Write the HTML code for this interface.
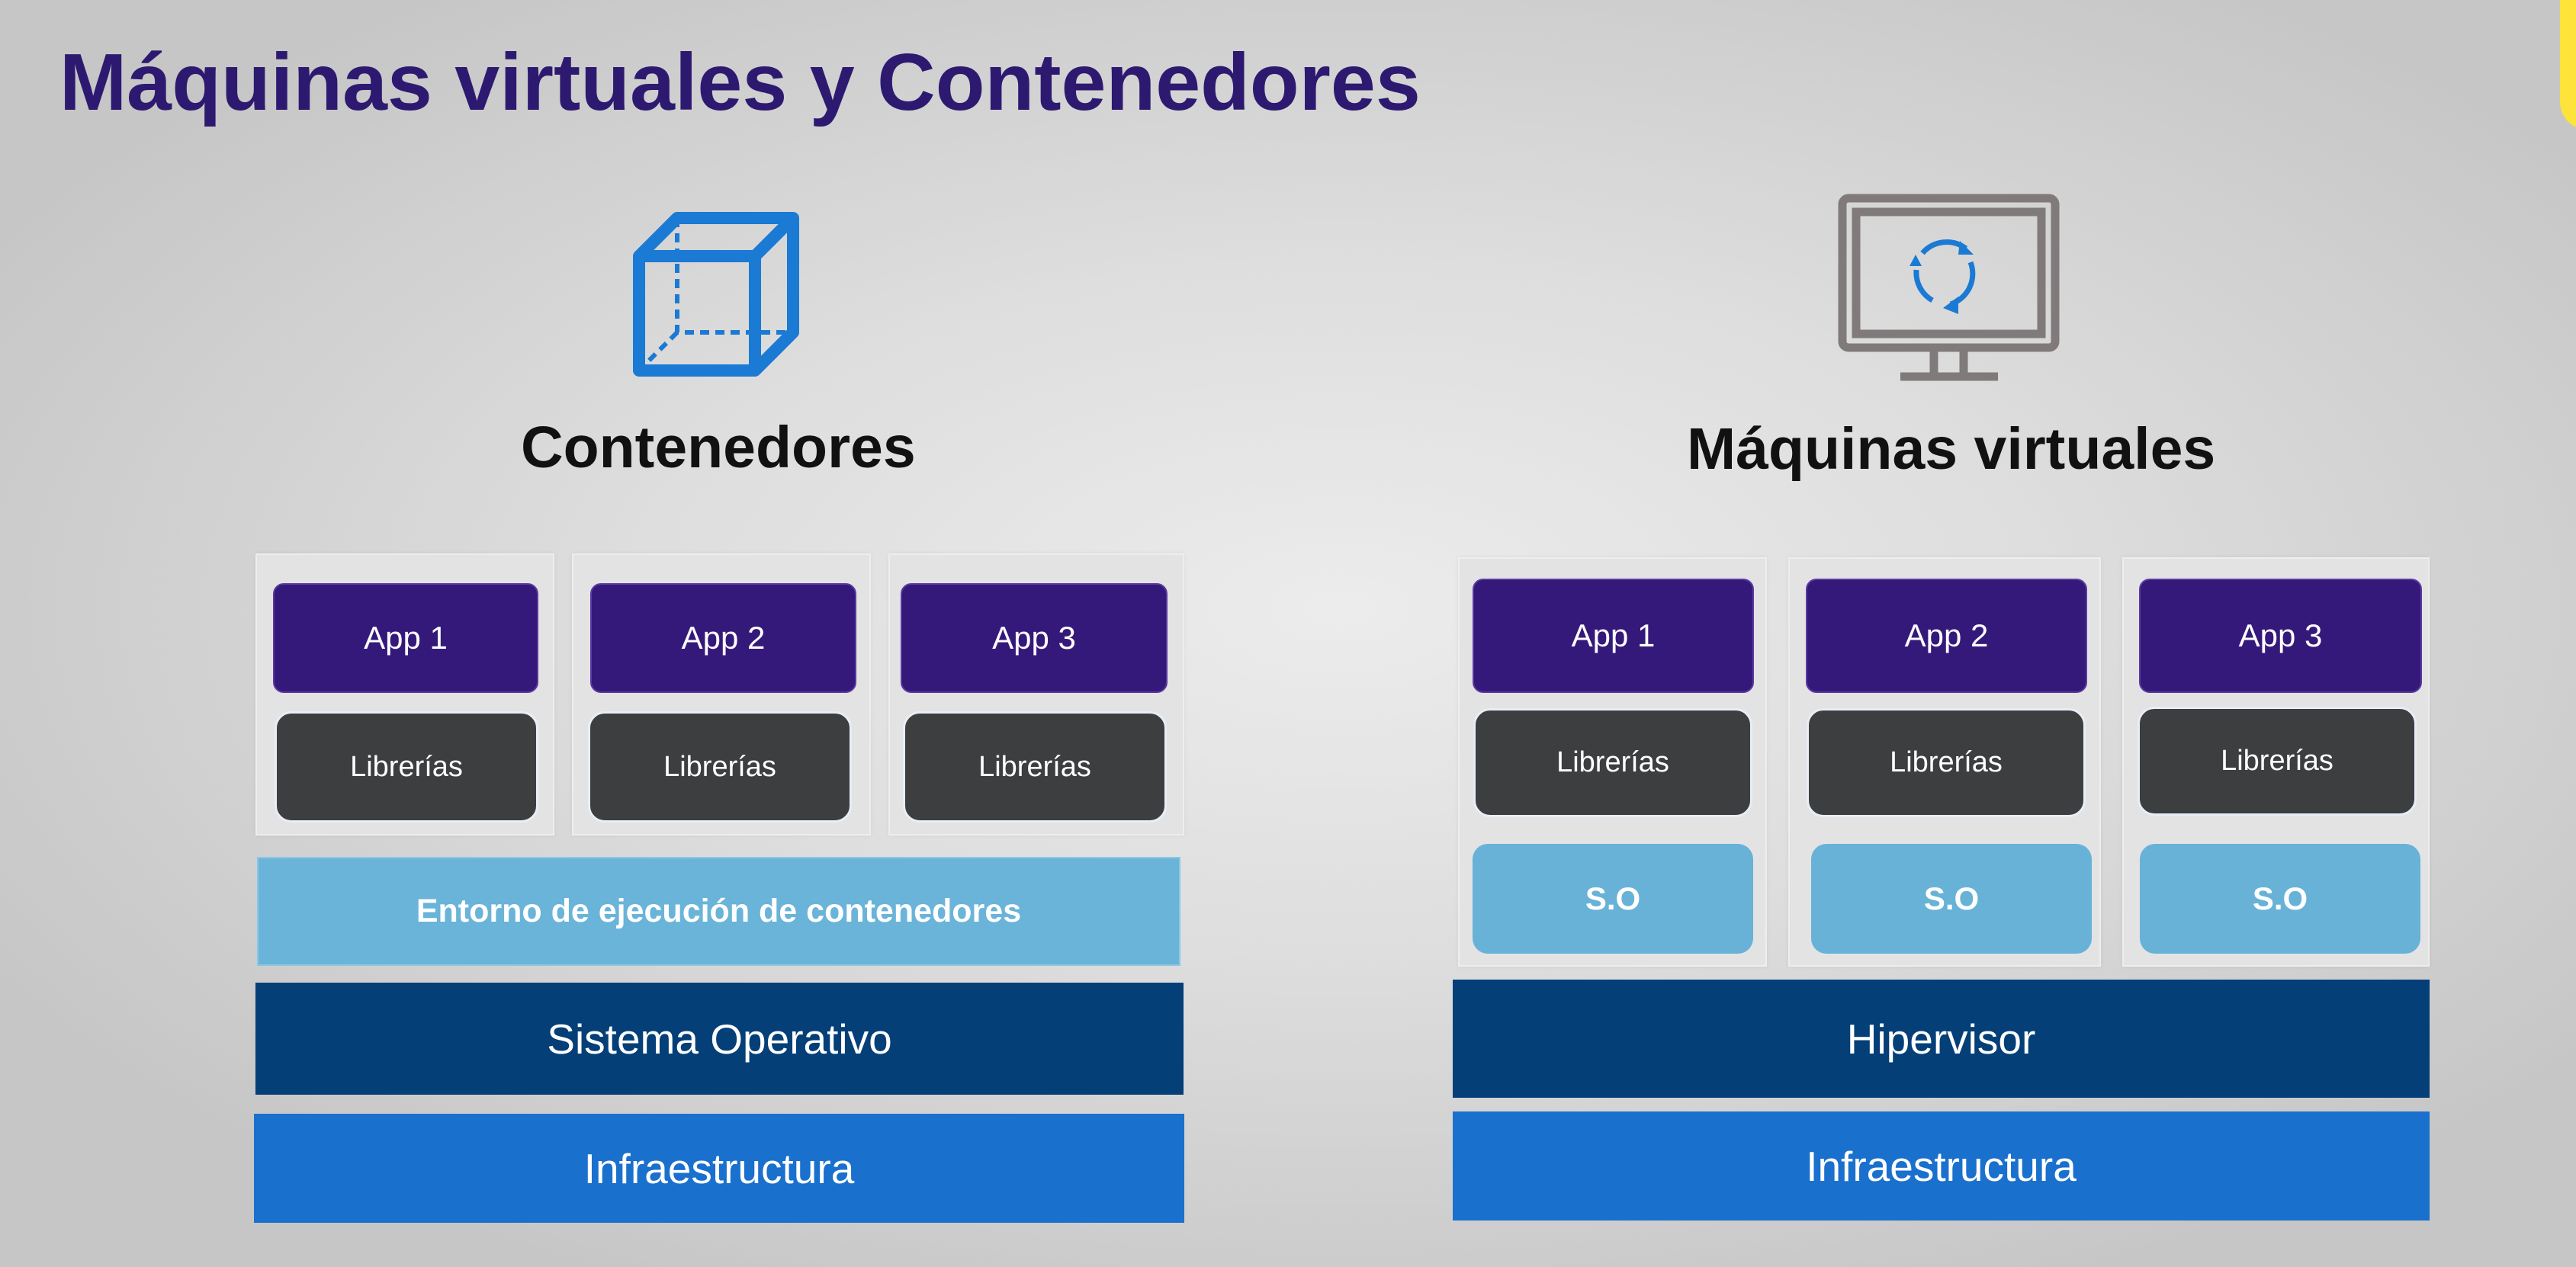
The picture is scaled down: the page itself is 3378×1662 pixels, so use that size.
<!DOCTYPE html>
<html><head><meta charset="utf-8"><style>
*{margin:0;padding:0;box-sizing:border-box}
body{width:3378px;height:1662px;overflow:hidden;position:relative;font-family:"Liberation Sans",Arial,sans-serif;
background:radial-gradient(ellipse 60% 60% at 52% 48%,#ececec 0%,#dedede 45%,#c6c6c6 100%);}
.a{position:absolute;display:flex;align-items:center;justify-content:center;color:#fff;text-align:center}
.g{position:absolute;background:#e3e3e4;border:2px solid #eeeeef;box-shadow:0 0 6px rgba(0,0,0,0.06)}
.app{background:#35197a;border-radius:14px;font-size:42px;border:2px solid #5a3aa0}
.lib{background:#3d3e40;border-radius:22px;font-size:38px;border:3px solid #e8eef5}
.so{background:#68b2d8;border-radius:20px;font-size:42px;font-weight:bold}
.h{position:absolute;font-weight:bold;color:#111;font-size:77px;white-space:nowrap}
</style></head><body>
<div style="position:absolute;left:78px;top:48px;font-size:106px;font-weight:bold;color:#2d1a70;white-space:nowrap;letter-spacing:0px">Máquinas virtuales y Contenedores</div>
<div style="position:absolute;left:3357px;top:-20px;width:40px;height:190px;background:#fde33a;border-radius:0 0 0 36px"></div>

<svg style="position:absolute;left:826px;top:272px" width="230" height="228" viewBox="0 0 230 228">
<g fill="none" stroke="#1a7ad4" stroke-width="16" stroke-linejoin="round">
<path d="M12 64 L62 14 L214 14 L214 164 L164 214 L12 214 Z"/>
<path d="M12 64 L164 64 L214 14 M164 64 L164 214"/>
</g>
<g fill="none" stroke="#1a7ad4" stroke-width="6" stroke-dasharray="12 8">
<path d="M62 14 L62 164 L214 164 M62 164 L12 214"/>
</g>
</svg>
<svg style="position:absolute;left:2408px;top:254px" width="295" height="250" viewBox="0 0 295 250">
<g fill="none" stroke="#807a7a" stroke-width="11">
<rect x="8" y="6" width="279" height="196" rx="8"/>
<rect x="26" y="24" width="243" height="160"/>
<path d="M128 202 L128 240 M167 202 L167 240 M84 240 L212 240"/>
</g>
<g fill="none" stroke="#1a7ad4" stroke-width="7">
<path d="M113 78 A42 42 0 0 1 170 72"/>
<path d="M176 90 A42 42 0 0 1 150 145"/>
<path d="M126 140 A42 42 0 0 1 105 100"/>
</g>
<g fill="#1a7ad4">
<path d="M162 62 L180 80 L160 80 Z"/><path d="M140 150 L160 135 L160 158 Z"/><path d="M96 95 L112 95 L104 80 Z"/>
</g>
</svg>

<div class="h" style="left:683px;top:543px">Contenedores</div>
<div class="h" style="left:2212px;top:545px">Máquinas virtuales</div>

<div class="g" style="left:335px;top:726px;width:392px;height:370px"></div>
<div class="g" style="left:750px;top:726px;width:392px;height:370px"></div>
<div class="g" style="left:1165px;top:726px;width:388px;height:370px"></div>
<div class="a app" style="left:358px;top:765px;width:348px;height:144px">App 1</div>
<div class="a app" style="left:774px;top:765px;width:349px;height:144px">App 2</div>
<div class="a app" style="left:1181px;top:765px;width:350px;height:144px">App 3</div>
<div class="a lib" style="left:360px;top:933px;width:346px;height:146px">Librerías</div>
<div class="a lib" style="left:771px;top:933px;width:346px;height:146px">Librerías</div>
<div class="a lib" style="left:1184px;top:933px;width:346px;height:146px">Librerías</div>
<div class="a" style="left:337px;top:1124px;width:1211px;height:143px;background:#6ab4d9;font-size:43px;font-weight:bold;border:2px solid #8cc7e4">Entorno de ejecución de contenedores</div>
<div class="a" style="left:335px;top:1289px;width:1217px;height:147px;background:#053f78;font-size:55px">Sistema Operativo</div>
<div class="a" style="left:333px;top:1461px;width:1220px;height:143px;background:#1a70cd;font-size:55px">Infraestructura</div>

<div class="g" style="left:1912px;top:731px;width:405px;height:537px"></div>
<div class="g" style="left:2345px;top:731px;width:410px;height:537px"></div>
<div class="g" style="left:2783px;top:731px;width:403px;height:537px"></div>
<div class="a app" style="left:1931px;top:759px;width:369px;height:150px">App 1</div>
<div class="a app" style="left:2368px;top:759px;width:369px;height:150px">App 2</div>
<div class="a app" style="left:2805px;top:759px;width:371px;height:150px">App 3</div>
<div class="a lib" style="left:1932px;top:929px;width:366px;height:143px">Librerías</div>
<div class="a lib" style="left:2369px;top:929px;width:366px;height:143px">Librerías</div>
<div class="a lib" style="left:2803px;top:927px;width:366px;height:143px">Librerías</div>
<div class="a so" style="left:1931px;top:1107px;width:368px;height:144px">S.O</div>
<div class="a so" style="left:2375px;top:1107px;width:368px;height:144px">S.O</div>
<div class="a so" style="left:2806px;top:1107px;width:368px;height:144px">S.O</div>
<div class="a" style="left:1905px;top:1285px;width:1281px;height:155px;background:#053f78;font-size:55px">Hipervisor</div>
<div class="a" style="left:1905px;top:1458px;width:1281px;height:143px;background:#1a70cd;font-size:55px">Infraestructura</div>
</body></html>
